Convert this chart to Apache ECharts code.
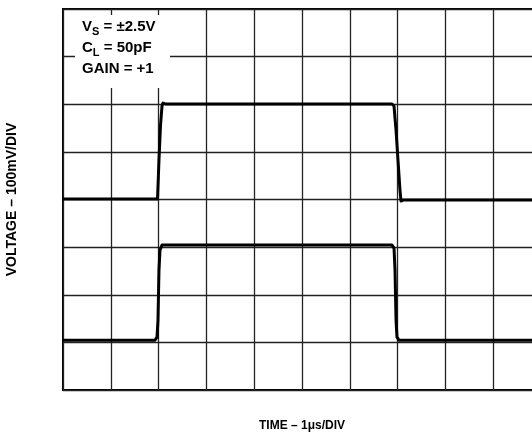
<!DOCTYPE html>
<html lang="en">
<head>
    <meta charset="UTF-8">
    <title>Pulse response</title>
    <style>
        html, body { margin: 0; padding: 0; background: #fff; }
    </style>
</head>
<body>

<div id="main" style="width: 532px;height:435px;"></div>

<script src="https://cdn.jsdelivr.net/npm/echarts@6/dist/echarts.min.js" charset="utf-8"></script>

<script type="text/javascript">
    // time in divisions (1us/div), voltage in divisions (100mV/div)
    var topTime = [0, 1.977, 2.008, 2.040, 2.071, 2.092, 2.155, 6.883, 6.925, 6.967, 7.008, 7.050, 7.071, 7.113, 10];
    var topVolt = [4.008, 4.008, 4.828, 5.563, 5.962, 6.025, 6.004, 6.004, 5.962, 5.458, 4.828, 4.197, 3.966, 3.987, 3.987];

    var botTime = [0, 1.925, 1.967, 1.987, 2.008, 2.029, 2.071, 6.883, 6.925, 6.946, 6.967, 6.987, 7.029, 10];
    var botVolt = [1.046, 1.046, 1.109, 1.466, 2.517, 2.937, 3.042, 3.042, 2.979, 2.517, 1.466, 1.109, 1.046, 1.046];

    var noteLines = ['{b|V}{s|S}{b| = ±2.5V}', '{b|C}{s|L}{b| = 50pF}', '{b|GAIN = +1}'];

    function pairs(xs, ys) {
        var out = [];
        for (var i = 0; i < xs.length; i++) {
            out.push([xs[i], ys[i]]);
        }
        return out;
    }

    var myChart = echarts.init(document.getElementById('main'));

    var option = {
        animation: false,
        grid: {
            left: 63,
            top: 9,
            width: 478,
            height: 381,
            outerBoundsMode: 'none',
            show: true,
            borderColor: '#000',
            borderWidth: 2
        },
        xAxis: {
            type: 'value',
            min: 0,
            max: 10,
            interval: 1,
            axisLine: {show: false},
            axisTick: {show: false},
            axisLabel: {show: false},
            splitLine: {show: true, lineStyle: {color: '#222', width: 1.3}},
            name: 'TIME – 1μs/DIV',
            nameLocation: 'middle',
            nameGap: 30,
            nameTextStyle: {fontFamily: 'Liberation Sans', fontWeight: 'bold', fontSize: 12, color: '#000'}
        },
        yAxis: {
            type: 'value',
            min: 0,
            max: 8,
            interval: 1,
            axisLine: {show: false},
            axisTick: {show: false},
            axisLabel: {show: false},
            splitLine: {show: true, lineStyle: {color: '#222', width: 1.3}},
            name: 'VOLTAGE – 100mV/DIV',
            nameLocation: 'middle',
            nameRotate: 90,
            nameGap: 44,
            nameTextStyle: {fontFamily: 'Liberation Sans', fontWeight: 'bold', fontSize: 14, color: '#000'}
        },
        graphic: [
            {
                type: 'rect',
                z: 100,
                shape: {x: 75, y: 15, width: 95, height: 73},
                style: {fill: '#fff'}
            },
            {
                type: 'text',
                z: 101,
                left: 82,
                top: 19,
                style: {
                    text: noteLines.join('\n'),
                    rich: {
                        b: {fontFamily: 'Liberation Sans', fontWeight: 'bold', fontSize: 15, fill: '#000', lineHeight: 21},
                        s: {fontFamily: 'Liberation Sans', fontWeight: 'bold', fontSize: 11, fill: '#000', lineHeight: 21, verticalAlign: 'bottom', padding: [6, 0, 0, 0]}
                    }
                }
            }
        ],
        series: [
            {
                type: 'line',
                data: pairs(topTime, topVolt),
                symbol: 'none',
                lineStyle: {color: '#000', width: 3, join: 'round'},
                z: 10
            },
            {
                type: 'line',
                data: pairs(botTime, botVolt),
                symbol: 'none',
                lineStyle: {color: '#000', width: 3, join: 'round'},
                z: 10
            }
        ]
    };

    myChart.setOption(option);
</script>
</body>

</html>
